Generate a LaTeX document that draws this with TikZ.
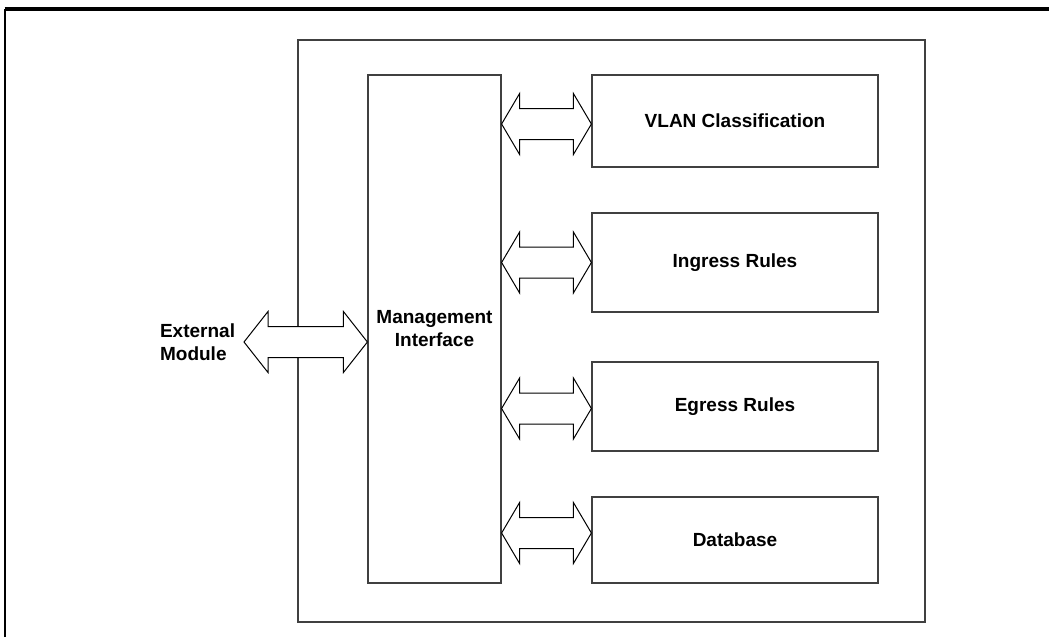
\documentclass[tikz,border=0pt]{standalone}
\usepackage{fontspec}
\setmainfont{Liberation Sans}
\usetikzlibrary{calc}
\tikzstyle{frame} = [draw=black!75, line width=0.6pt, inner sep=0pt]
\tikzstyle{block} = [draw=black!75, line width=0.6pt, fill=white, inner sep=0pt, align=center]
\tikzstyle{lbl} = [font={\fontsize{9.5}{11.5}\selectfont\bfseries}]
\tikzstyle{dbl} = [draw=black, line width=0.5pt, fill=white, line join=miter]

% double block arrow from x of #1 to tip #2 (at the height of #2), head length #3
\newcommand{\dblarrow}[3]{%
  \draw[dbl] let \p1=(#1), \p2=(#2) in
    (\x1,\y2) -- (\x1+#3,\y2+15.25pt) -- (\x1+#3,\y2+7.75pt) -- (\x2-#3,\y2+7.75pt)
    -- (\x2-#3,\y2+15.25pt) -- (\x2,\y2) -- (\x2-#3,\y2-15.25pt) -- (\x2-#3,\y2-7.75pt)
    -- (\x1+#3,\y2-7.75pt) -- (\x1+#3,\y2-15.25pt) -- cycle;}

\begin{document}
\begin{tikzpicture}[x=0.5pt,y=-0.5pt]
    \useasboundingbox (0,0) rectangle (1049,637);
    \draw[line width=0.6pt] (5,637) -- (5,9);
    \draw[line width=1.6pt] (4.7,9) -- (1049,9);
    \node[frame, minimum width=313.5pt, minimum height=291pt](sys) at (611.5,331){};
    \node[block, lbl, minimum width=66.5pt, minimum height=254pt](mgmt) at (434.5,329){Management\\Interface};
    \node[block, lbl, minimum width=143pt, minimum height=46pt](vlan) at (735,121){VLAN Classification};
    \node[block, lbl, minimum width=143pt, minimum height=49.5pt](ingress) at (735,262.5){Ingress Rules};
    \node[block, lbl, minimum width=143pt, minimum height=44.5pt](egress) at (735,406.5){Egress Rules};
    \node[block, lbl, minimum width=143pt, minimum height=43pt](db) at (735,540){Database};
    \node[lbl, anchor=west, align=left](ext) at (153,342){External\\Module};
    \coordinate (exttip) at (244,342);
    \dblarrow{exttip}{mgmt.west |- exttip}{12pt}
    \dblarrow{mgmt.east}{$(vlan.west)+(0,3)$}{9pt}
    \dblarrow{mgmt.east}{ingress.west}{9pt}
    \dblarrow{mgmt.east}{$(egress.west)+(0,2)$}{9pt}
    \dblarrow{mgmt.east}{$(db.west)+(0,-7)$}{9pt}
  \end{tikzpicture}
\end{document}
